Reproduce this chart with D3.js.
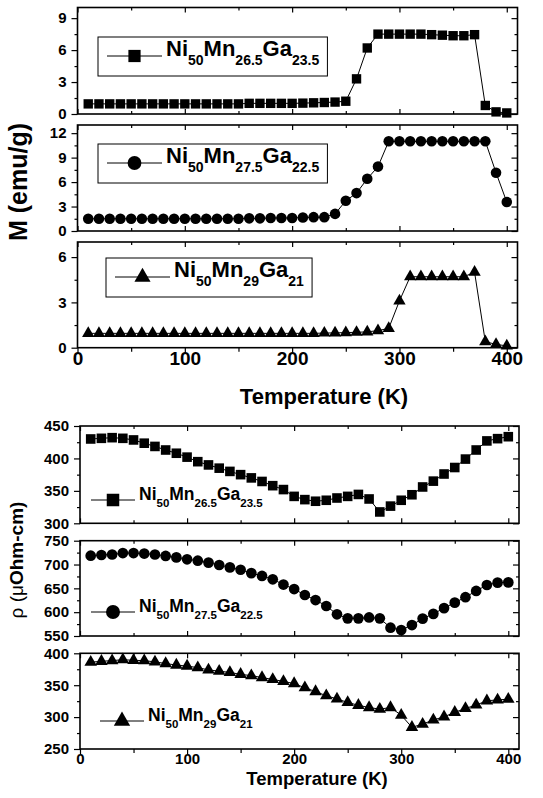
<!DOCTYPE html>
<html lang="en">
<head>
<meta charset="UTF-8">
<title>Ni-Mn-Ga: M(T) and rho(T)</title>
<script src="https://cdn.jsdelivr.net/npm/d3@7"></script>
<style>
  body { margin: 0; background: #fff; }
  svg text { font-family: "Liberation Sans", Arial, sans-serif; font-weight: bold; fill: #000; }
</style>
</head>
<body>
<script>
// temperature (K) of every measured point
var temperature = [10, 20, 30, 40, 50, 60, 70, 80, 90, 100,
                   110, 120, 130, 140, 150, 160, 170, 180, 190, 200,
                   210, 220, 230, 240, 250, 260, 270, 280, 290, 300,
                   310, 320, 330, 340, 350, 360, 370, 380, 390, 400];

// magnetization M (emu/g)
var magA = [0.95, 0.95, 0.95, 0.95, 0.95, 0.95, 0.95, 0.95, 0.95, 0.95,
            0.95, 0.95, 0.95, 0.95, 0.95, 1.0, 1.0, 1.0, 1.0, 1.0,
            1.02, 1.05, 1.08, 1.12, 1.2, 3.3, 6.2, 7.5, 7.5, 7.5,
            7.5, 7.5, 7.45, 7.4, 7.35, 7.35, 7.45, 0.8, 0.2, 0.1];
var magB = [1.5, 1.5, 1.5, 1.5, 1.5, 1.5, 1.5, 1.5, 1.5, 1.5,
            1.5, 1.5, 1.5, 1.5, 1.5, 1.55, 1.55, 1.6, 1.6, 1.6,
            1.65, 1.7, 1.7, 2.1, 3.7, 4.65, 6.4, 7.9, 11.0, 11.0,
            11.0, 11.0, 11.0, 11.0, 11.0, 11.0, 11.0, 11.0, 7.15, 3.55];
var magC = [0.95, 0.95, 0.95, 0.95, 0.95, 0.95, 0.95, 0.95, 0.95, 0.95,
            0.95, 0.95, 0.95, 0.95, 0.95, 0.95, 0.95, 0.95, 0.95, 0.95,
            0.95, 0.95, 0.97, 0.98, 1.0, 1.02, 1.05, 1.13, 1.28, 3.1,
            4.7, 4.7, 4.7, 4.7, 4.7, 4.7, 5.0, 0.4, 0.22, 0.12];

// resistivity rho (uOhm-cm)
var resA = [430, 431, 432, 431, 428.5, 423.5, 418.5, 413, 408, 402,
            395, 390, 385, 380, 375, 370, 364.5, 358, 352, 341.5,
            336.5, 334, 335.5, 339, 341.5, 344.5, 337.5, 317.5, 326.5, 335.5,
            344, 356, 365, 376, 386, 399, 413, 427, 430.5, 433.5];
var resB = [718.5, 720, 721, 724, 724, 723, 721, 718, 715, 711,
            708, 704, 699, 694, 689, 682, 676, 669, 658, 648.5,
            636, 625.5, 613, 595.5, 587, 587, 589, 587, 567.5, 562.5,
            573, 586.5, 596.5, 608.5, 620, 631.5, 644.5, 657, 662, 662.5];
var resC = [386, 387.5, 388.5, 390, 389, 388.5, 386.5, 384, 381.5, 380,
            377.5, 374, 372, 370, 367, 365, 362, 359, 356, 352.5,
            346, 340, 333.5, 328.5, 323, 318.5, 315, 312.5, 315, 303,
            284, 289, 295.5, 300.5, 307.5, 313.5, 319, 325.5, 327, 328];

// legend labels: [element, subscript]
var labelA = [["Ni", "50"], ["Mn", "26.5"], ["Ga", "23.5"]];
var labelB = [["Ni", "50"], ["Mn", "27.5"], ["Ga", "22.5"]];
var labelC = [["Ni", "50"], ["Mn", "29"], ["Ga", "21"]];

// axis ticks
var xMajor = [0, 100, 200, 300, 400];
var xMinor = [50, 150, 250, 350];

var width = 543, height = 798;
var svg = d3.select("body").append("svg").attr("width", width).attr("height", height);

var xTop = d3.scaleLinear().domain([0, 410]).range([77.5, 517.5]);
var xBot = d3.scaleLinear().domain([0, 410]).range([80, 519]);

function rangeStep(a, b, s) { var r = []; for (var v = a; v <= b + 1e-9; v += s) r.push(+v.toFixed(3)); return r; }

var panels = [
  { x: xTop, top: 7.5, bottom: 114, domain: [0, 10], step: 3, values: magA, shape: d3.symbolSquare, size: 88,
    label: labelA, boxed: true, lx: 98, ly: 56, big: 22, small: 14, yFont: 15 },
  { x: xTop, top: 125, bottom: 231, domain: [0, 13], step: 3, values: magB, shape: d3.symbolCircle, size: 88,
    label: labelB, boxed: true, lx: 98, ly: 163, big: 22, small: 14, yFont: 15 },
  { x: xTop, top: 242, bottom: 347.7, domain: [0, 7], step: 3, values: magC, shape: d3.symbolTriangle, size: 66,
    label: labelC, boxed: true, lx: 106, ly: 277, big: 22, small: 14, yFont: 15, last: true, xFont: 19 },
  { x: xBot, top: 426, bottom: 523.3, domain: [300, 450], step: 50, values: resA, shape: d3.symbolSquare, size: 92,
    label: labelA, boxed: false, lx: 82, ly: 500, big: 17.5, small: 11.5, yFont: 15 },
  { x: xBot, top: 540.7, bottom: 636, domain: [550, 750], step: 50, values: resB, shape: d3.symbolCircle, size: 90,
    label: labelB, boxed: false, lx: 82, ly: 612, big: 17.5, small: 11.5, yFont: 15 },
  { x: xBot, top: 653.3, bottom: 749, domain: [250, 400], step: 50, values: resC, shape: d3.symbolTriangle, size: 68,
    label: labelC, boxed: false, lx: 91, ly: 721, big: 17.5, small: 11.5, yFont: 15, last: true, xFont: 15 }
];

function styleAxis(g) {
  g.select(".domain").remove();
  g.selectAll(".tick line").attr("stroke", "#000").attr("stroke-width", 1.2);
}

panels.forEach(function(p) {
  var x = p.x;
  var y = d3.scaleLinear().domain(p.domain).range([p.bottom, p.top]);
  var left = x.range()[0], right = x.range()[1];
  var yMajor = rangeStep(p.domain[0], p.domain[1], p.step);
  var yMinor = rangeStep(p.domain[0] + p.step / 2, p.domain[1], p.step);

  // y axis, ticks outward with labels
  svg.append("g").attr("transform", "translate(" + left + ",0)")
    .call(d3.axisLeft(y).tickValues(yMajor).tickSize(6).tickPadding(5).tickFormat(d3.format("d")))
    .call(styleAxis)
    .selectAll("text").attr("font-size", p.yFont);
  svg.append("g").attr("transform", "translate(" + left + ",0)")
    .call(d3.axisLeft(y).tickValues(yMinor).tickSize(3).tickFormat(""))
    .call(styleAxis);
  // right side, ticks inward
  svg.append("g").attr("transform", "translate(" + right + ",0)")
    .call(d3.axisLeft(y).tickValues(yMajor).tickSize(6).tickFormat(""))
    .call(styleAxis);
  svg.append("g").attr("transform", "translate(" + right + ",0)")
    .call(d3.axisLeft(y).tickValues(yMinor).tickSize(3).tickFormat(""))
    .call(styleAxis);
  // top, ticks inward
  svg.append("g").attr("transform", "translate(0," + p.top + ")")
    .call(d3.axisBottom(x).tickValues(xMajor).tickSize(5).tickFormat(""))
    .call(styleAxis);
  svg.append("g").attr("transform", "translate(0," + p.top + ")")
    .call(d3.axisBottom(x).tickValues(xMinor).tickSize(3).tickFormat(""))
    .call(styleAxis);
  // bottom
  if (p.last) {
    svg.append("g").attr("transform", "translate(0," + p.bottom + ")")
      .call(d3.axisBottom(x).tickValues(xMajor).tickSize(5).tickPadding(-1).tickFormat(d3.format("d")))
      .call(styleAxis)
      .selectAll("text").attr("font-size", p.xFont);
    svg.append("g").attr("transform", "translate(0," + p.bottom + ")")
      .call(d3.axisBottom(x).tickValues(xMinor).tickSize(4).tickFormat(""))
      .call(styleAxis);
  } else {
    svg.append("g").attr("transform", "translate(0," + p.bottom + ")")
      .call(d3.axisTop(x).tickValues(xMajor).tickSize(5).tickFormat(""))
      .call(styleAxis);
    svg.append("g").attr("transform", "translate(0," + p.bottom + ")")
      .call(d3.axisTop(x).tickValues(xMinor).tickSize(3).tickFormat(""))
      .call(styleAxis);
  }

  // frame
  svg.append("rect")
    .attr("x", left).attr("y", p.top)
    .attr("width", right - left).attr("height", p.bottom - p.top)
    .attr("fill", "none").attr("stroke", "#000").attr("stroke-width", 1.6);

  // data
  var pts = temperature.map(function(t, i) { return { t: t, v: p.values[i] }; });
  var line = d3.line().x(function(d) { return x(d.t); }).y(function(d) { return y(d.v); });
  svg.append("path").datum(pts).attr("d", line)
    .attr("fill", "none").attr("stroke", "#000").attr("stroke-width", 1);
  svg.append("g").selectAll("path").data(pts).enter().append("path")
    .attr("transform", function(d) { return "translate(" + x(d.t) + "," + y(d.v) + ")"; })
    .attr("d", d3.symbol().type(p.shape).size(p.size))
    .attr("fill", "#000");

  // legend
  var lg = svg.append("g");
  var lineStart = p.lx + 9, lineEnd = p.boxed ? p.lx + 64 : p.lx + 53;
  var mx = (lineStart + lineEnd) / 2;
  lg.append("line").attr("x1", lineStart).attr("x2", lineEnd).attr("y1", p.ly).attr("y2", p.ly)
    .attr("stroke", "#000").attr("stroke-width", 1);
  lg.append("path").attr("transform", "translate(" + mx + "," + p.ly + ")")
    .attr("d", d3.symbol().type(p.shape).size(p.size * 1.7)).attr("fill", "#000");
  var drop = p.big * 0.38;
  var txt = lg.append("text").attr("x", lineEnd + 4).attr("y", p.ly + p.big * 0.4);
  p.label.forEach(function(part) {
    txt.append("tspan").attr("font-size", p.big).attr("dy", txt.selectAll("tspan").size() ? -drop : 0).text(part[0]);
    txt.append("tspan").attr("font-size", p.small).attr("dy", drop).text(part[1]);
  });
  if (p.boxed) {
    var bb = txt.node().getBBox();
    lg.insert("rect", ":first-child")
      .attr("x", p.lx).attr("y", p.ly - 19)
      .attr("width", bb.x + bb.width + 8 - p.lx).attr("height", 39)
      .attr("fill", "#fff").attr("stroke", "#000").attr("stroke-width", 1);
  }
});

// axis titles
svg.append("text").attr("x", 324).attr("y", 404).attr("text-anchor", "middle")
  .attr("font-size", 22).text("Temperature (K)");
svg.append("text").attr("x", 317).attr("y", 785).attr("text-anchor", "middle")
  .attr("font-size", 18.5).text("Temperature (K)");
svg.append("text").attr("transform", "translate(27,182) rotate(-90)").attr("text-anchor", "middle")
  .attr("font-size", 25).text("M (emu/g)");
var rho = svg.append("text").attr("transform", "translate(23,560) rotate(-90)").attr("text-anchor", "middle")
  .attr("font-size", 19);
rho.append("tspan").attr("font-weight", "normal").text("\u03C1 (");
rho.append("tspan").attr("font-weight", "normal").text("\u03BC");
rho.append("tspan").text("Ohm-cm)");
</script>
</body>
</html>
